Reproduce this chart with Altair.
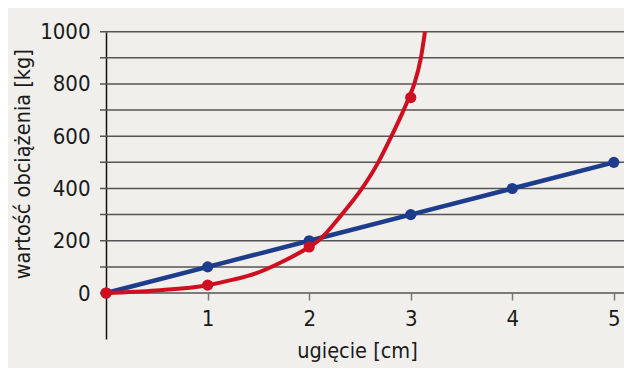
import altair as alt
import pandas as pd

# ---- data ----
x_blue = [0, 1, 2, 3, 4, 5]
y_blue = [0, 100, 200, 300, 400, 500]

x_red_pts = [0, 1, 2, 3]
y_red_pts = [0, 30, 176, 748]

x_red_curve = [0, 0.49, 1, 1.25, 1.48, 1.71, 2, 2.09, 2.32, 2.52, 2.68, 2.81, 2.93, 2.985, 3.035, 3.10, 3.14]
y_red_curve = [0, 10, 30, 51, 76, 115, 176, 200, 300, 400, 500, 600, 700, 750, 800, 900, 1000]

y_grid = list(range(0, 1001, 100))
x_ticks = [1, 2, 3, 4, 5]

x_title = "ugięcie [cm]"
y_title = "wartość obciążenia [kg]"

FONT = "DejaVu Sans Condensed, Liberation Sans Narrow, sans-serif"
BLUE = "#1d3d8c"
RED = "#cf0f1f"
TXT = "#1a1a1a"
W, H = 524, 307.3

blue_df = pd.DataFrame({"x": x_blue, "y": y_blue})
red_pts_df = pd.DataFrame({"x": x_red_pts, "y": y_red_pts})
red_curve_df = pd.DataFrame({"x": x_red_curve, "y": y_red_curve})
grid_df = pd.DataFrame({"y": y_grid})

xs = alt.Scale(domain=[-0.06, 5.1], nice=False, zero=False)
ys = alt.Scale(domain=[-176, 1000], nice=False, zero=False)

x_axis = alt.Axis(
    values=x_ticks, format="d", title=x_title, offset=-46, domain=False, grid=False,
    tickSize=7, tickColor="#777777", tickWidth=1.5,
    labelFont=FONT, labelFontSize=22, labelColor=TXT, labelPadding=8,
    titleFont=FONT, titleFontSize=21.5, titleColor=TXT, titleFontWeight="normal",
    titleX=257, titleY=64, titleBaseline="alphabetic",
)
y_axis = alt.Axis(
    values=y_grid, format="d",
    labelExpr="datum.value % 200 == 0 ? datum.label : ''",
    offset=-6, grid=False,
    domain=True, domainColor="#111111", domainWidth=1.5, ticks=False,
    labelFont=FONT, labelFontSize=22, labelColor=TXT, labelPadding=16,
    title=y_title, titleFont=FONT, titleFontSize=21.5, titleColor=TXT,
    titleFontWeight="normal", titleX=-72, titleY=132, titleBaseline="bottom",
)

grid = alt.Chart(grid_df).mark_rule(color="#555555", strokeWidth=1.5).encode(
    y=alt.Y("y:Q", scale=ys, axis=y_axis),
    x=alt.value(0), x2=alt.value(W),
)
blue_line = alt.Chart(blue_df).mark_line(color=BLUE, strokeWidth=4.5).encode(
    x=alt.X("x:Q", scale=xs, axis=x_axis),
    y=alt.Y("y:Q", scale=ys),
)
blue_pts = alt.Chart(blue_df).mark_circle(color=BLUE, size=125, opacity=1).encode(
    x=alt.X("x:Q", scale=xs), y=alt.Y("y:Q", scale=ys)
)
red_line = alt.Chart(red_curve_df).mark_line(
    color=RED, strokeWidth=4, interpolate="monotone"
).encode(x=alt.X("x:Q", scale=xs), y=alt.Y("y:Q", scale=ys))
red_pts = alt.Chart(red_pts_df).mark_circle(color=RED, size=125, opacity=1).encode(
    x=alt.X("x:Q", scale=xs), y=alt.Y("y:Q", scale=ys)
)

chart = (
    alt.layer(grid, blue_line, blue_pts, red_line, red_pts)
    .properties(
        width=W, height=H,
        autosize=alt.AutoSizeParams(type="none"),
        padding={"left": 92, "top": 23.7, "right": 0, "bottom": 29},
        background="#f1efeb",
    )
    .configure_view(stroke=None)
)

chart.save("out.html", embed_options={"renderer": "svg", "actions": False})
